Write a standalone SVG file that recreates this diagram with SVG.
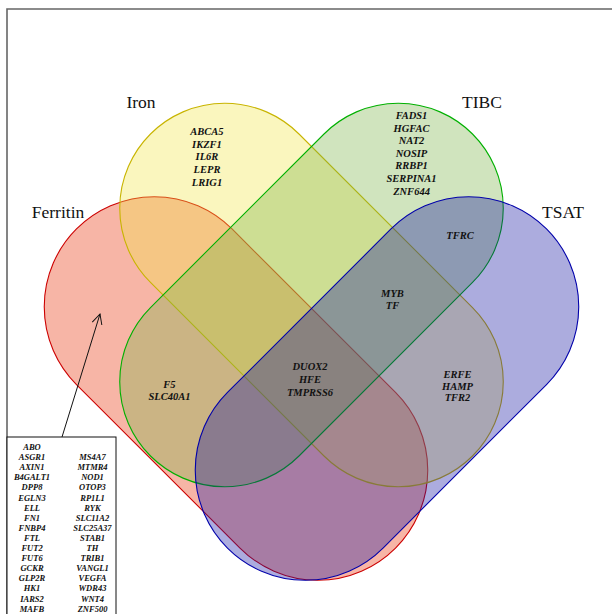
<svg xmlns="http://www.w3.org/2000/svg" width="612" height="614" viewBox="0 0 612 614">
<defs>
<style>
.set{stroke-width:1.1}
.lbl{font-family:"Liberation Serif",serif;font-size:17.5px;fill:#111;text-anchor:middle}
.g{font-family:"Liberation Serif",serif;font-size:10.5px;font-weight:bold;font-style:italic;fill:#111;text-anchor:middle}
.b{font-family:"Liberation Serif",serif;font-size:8.5px;font-weight:bold;font-style:italic;fill:#111;text-anchor:middle}
</style>
<marker id="arr" viewBox="0 0 12 12" refX="11" refY="6" markerWidth="12" markerHeight="12" markerUnits="userSpaceOnUse" orient="auto">
<path d="M1,1 L11,6 L1,11" fill="none" stroke="#111" stroke-width="1"/>
</marker>
</defs>
<rect width="612" height="614" fill="#fff"/>
<path d="M7,614 V9 H612" fill="none" stroke="#666" stroke-width="1.6"/>

<g id="ferritin">
<rect class="set" x="10.4" y="278.5" width="451.2" height="220" rx="110" transform="rotate(45 236 388.5)" fill="#e82b01" fill-opacity="0.35" stroke="#cc0000"/>
</g>
<g id="iron">
<rect class="set" x="83.8" y="190" width="455.4" height="210" rx="105" transform="rotate(45 311.5 295)" fill="#f0e545" fill-opacity="0.35" stroke="#c8b400"/>
</g>
<g id="tibc">
<rect class="set" x="83.8" y="190" width="455.4" height="210" rx="105" transform="rotate(-45 311.5 295)" fill="#79b245" fill-opacity="0.35" stroke="#00b000"/>
</g>
<g id="tsat">
<rect class="set" x="161.4" y="278.5" width="451.2" height="220" rx="110" transform="rotate(-45 387 388.5)" fill="#1212a0" fill-opacity="0.35" stroke="#0000aa"/>
</g>

<g id="labels">
<text class="lbl" x="141" y="108">Iron</text>
<text class="lbl" x="482" y="108">TIBC</text>
<text class="lbl" x="58" y="218">Ferritin</text>
<text class="lbl" x="563" y="218">TSAT</text>
</g>

<g id="iron-only">
<text class="g" x="207" y="135">ABCA5</text>
<text class="g" x="207" y="147.7">IKZF1</text>
<text class="g" x="207" y="160.4">IL6R</text>
<text class="g" x="207" y="173.1">LEPR</text>
<text class="g" x="207" y="185.8">LRIG1</text>
</g>
<g id="tibc-only">
<text class="g" x="411.5" y="119">FADS1</text>
<text class="g" x="411.5" y="131.6">HGFAC</text>
<text class="g" x="411.5" y="144.2">NAT2</text>
<text class="g" x="411.5" y="156.8">NOSIP</text>
<text class="g" x="411.5" y="169.4">RRBP1</text>
<text class="g" x="411.5" y="182">SERPINA1</text>
<text class="g" x="411.5" y="194.6">ZNF644</text>
</g>
<g id="tibc-tsat">
<text class="g" x="460" y="238.8">TFRC</text>
</g>
<g id="iron-tibc-tsat">
<text class="g" x="392.5" y="296.5">MYB</text>
<text class="g" x="392.5" y="308.5">TF</text>
</g>
<g id="ferritin-iron-tibc">
<text class="g" x="169.5" y="387.8">F5</text>
<text class="g" x="169.5" y="400">SLC40A1</text>
</g>
<g id="all">
<text class="g" x="310" y="370">DUOX2</text>
<text class="g" x="310" y="383">HFE</text>
<text class="g" x="310" y="396">TMPRSS6</text>
</g>
<g id="iron-tsat">
<text class="g" x="457.5" y="377.8">ERFE</text>
<text class="g" x="457.5" y="389.6">HAMP</text>
<text class="g" x="457.5" y="401.4">TFR2</text>
</g>

<g id="ferritin-only-box">
<rect x="7" y="437" width="109" height="182" fill="#fff" stroke="#111" stroke-width="1"/>
<g class="b">
<text x="32" y="450">ABO</text>
<text x="32" y="460.1">ASGR1</text>
<text x="32" y="470.2">AXIN1</text>
<text x="32" y="480.3">B4GALT1</text>
<text x="32" y="490.4">DPP8</text>
<text x="32" y="500.5">EGLN3</text>
<text x="32" y="510.6">ELL</text>
<text x="32" y="520.7">FN1</text>
<text x="32" y="530.8">FNBP4</text>
<text x="32" y="540.9">FTL</text>
<text x="32" y="551">FUT2</text>
<text x="32" y="561.1">FUT6</text>
<text x="32" y="571.2">GCKR</text>
<text x="32" y="581.3">GLP2R</text>
<text x="32" y="591.4">HK1</text>
<text x="32" y="601.5">IARS2</text>
<text x="32" y="611.6">MAFB</text>
<text x="92.5" y="460.1">MS4A7</text>
<text x="92.5" y="470.2">MTMR4</text>
<text x="92.5" y="480.3">NOD1</text>
<text x="92.5" y="490.4">OTOP3</text>
<text x="92.5" y="500.5">RP1L1</text>
<text x="92.5" y="510.6">RYK</text>
<text x="92.5" y="520.7">SLC11A2</text>
<text x="92.5" y="530.8">SLC25A37</text>
<text x="92.5" y="540.9">STAB1</text>
<text x="92.5" y="551">TH</text>
<text x="92.5" y="561.1">TRIB1</text>
<text x="92.5" y="571.2">VANGL1</text>
<text x="92.5" y="581.3">VEGFA</text>
<text x="92.5" y="591.4">WDR43</text>
<text x="92.5" y="601.5">WNT4</text>
<text x="92.5" y="611.6">ZNF500</text>
</g>
</g>

<g id="connectors">
<line x1="62" y1="437" x2="100" y2="314" stroke="#111" stroke-width="1" marker-end="url(#arr)"/>
</g>
</svg>
